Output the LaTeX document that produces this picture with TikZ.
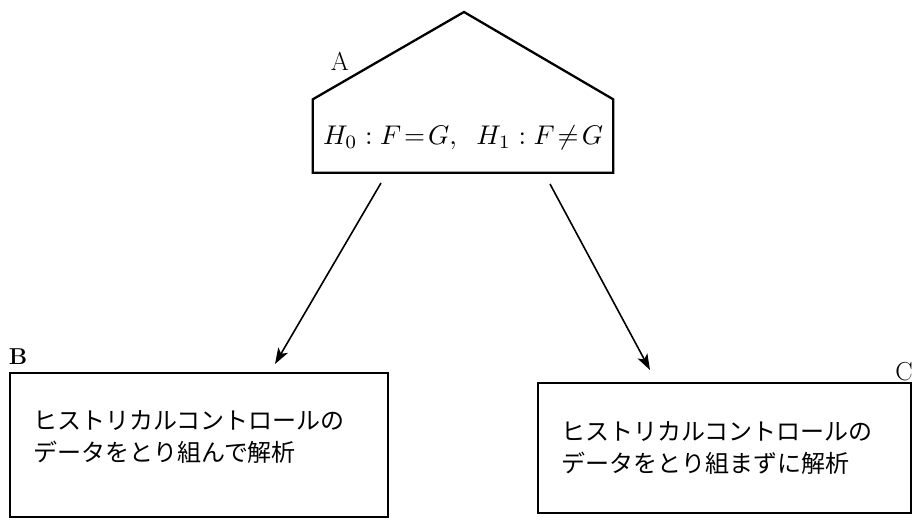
\documentclass[tikz,border=0pt]{standalone}
\usepackage{graphicx}
\usepackage{fontspec}
\newfontfamily\jp{Noto Sans CJK JP}
\usetikzlibrary{arrows.meta,calc}
\tikzset{
  boxline/.style={draw, line width=2.3pt},
  conn/.style={line width=1.6pt, -{Stealth[length=16pt,width=11pt,inset=4pt]}},
  lab/.style={font=\fontsize{26}{26}\selectfont, inner sep=0pt},
  jtext/.style={font=\jp\fontsize{24}{32}\selectfont, align=left, inner sep=0pt},
}
\begin{document}
\begin{tikzpicture}[x=1pt,y=-1pt]
\useasboundingbox (0,0) rectangle (913,522);
% A: pentagon
\node[minimum width=300pt, minimum height=73pt, inner sep=0pt, yshift=-2pt] (A) at (463,136) {\resizebox{280pt}{!}{$H_0:F\!=\!G,\;\; H_1:F\!\neq\! G$}};
\coordinate (apex) at (464,12);
\draw[line width=2.3pt, line join=miter] ($(A.north west)+(0,-2)$) -- (apex) -- ($(A.north east)+(0,-2)$) -- ($(A.south east)+(0,-2)$) -- ($(A.south west)+(0,-2)$) -- cycle;
\node[lab] (Alab) at (340,61) {A};
% B
\node[boxline, minimum width=378pt, minimum height=144pt, inner sep=0pt] (B) at (199,445) {};
\node[jtext, anchor=west] (Btext) at (33,437) {ヒストリカルコントロールの\\データをとり組んで解析};
\node[lab, font=\bfseries\fontsize{23}{23}\selectfont] (Blab) at (18,357) {B};
% C
\node[boxline, minimum width=373pt, minimum height=130pt, inner sep=0pt] (C) at (724.5,448) {};
\node[jtext, anchor=west] (Ctext) at (561,448) {ヒストリカルコントロールの\\データをとり組まずに解析};
\node[lab, anchor=east] (Clab) at (913,372) {C};
% connectors
\coordinate (s1) at (381,183);
\coordinate (e1) at (275,364);
\coordinate (s2) at (550,184);
\coordinate (e2) at (650,370);
\draw[conn] (s1) -- (e1);
\draw[conn] (s2) -- (e2);
\end{tikzpicture}
\end{document}
